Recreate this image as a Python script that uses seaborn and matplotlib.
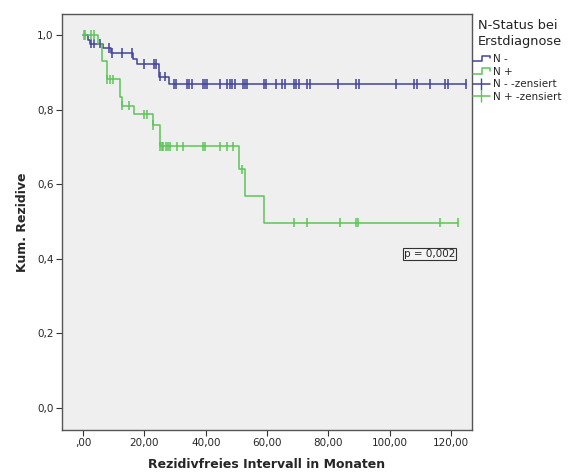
import numpy as np
import pandas as pd
import matplotlib
matplotlib.use('Agg')
import matplotlib.pyplot as plt
import seaborn as sns
from matplotlib.lines import Line2D
from matplotlib.legend_handler import HandlerBase

# Kaplan-Meier step curves (time in months, cumulative value)
n_minus_t = [0, 1.5, 2.2, 6.6, 9.0, 16.4, 17.6, 24.8, 27.9, 125.0]
n_minus_s = [1.0, 0.988, 0.977, 0.965, 0.952, 0.937, 0.922, 0.888, 0.869, 0.869]
n_plus_t = [0, 5.0, 6.1, 7.7, 11.9, 12.6, 16.7, 22.7, 25.0, 50.7, 52.9, 58.9, 122.2]
n_plus_s = [1.0, 0.977, 0.930, 0.881, 0.835, 0.811, 0.787, 0.759, 0.702, 0.640, 0.569, 0.497, 0.497]

# censored observations
n_minus_cens = [2.6, 3.7, 5.5, 8.5, 9.4, 12.7, 15.9, 19.7, 23.0, 23.8, 25.2, 26.6,
                29.5, 30.3, 33.9, 34.7, 35.5, 39.0, 39.8, 40.5, 44.8, 47.0, 47.8, 48.6,
                49.6, 52.1, 52.8, 53.6, 59.0, 59.7, 62.9, 64.9, 65.8, 68.9, 69.6, 70.3,
                73.1, 73.9, 83.2, 89.1, 89.9, 102.1, 108.1, 109.0, 113.1, 118.2, 119.1, 125.0]
n_plus_cens = [0.2, 0.6, 2.6, 3.5, 7.8, 8.6, 9.9, 12.7, 14.8, 19.9, 20.8, 22.8, 25.1,
               25.6, 26.2, 26.9, 27.6, 28.3, 30.6, 32.7, 39.1, 39.8, 44.8, 47.0, 48.9,
               51.8, 68.8, 72.9, 83.8, 89.0, 89.8, 116.3, 122.2]

groups = ['N -', 'N +']
colors = {'N -': '#42439a', 'N +': '#5cc45a'}
x_ticks = [0, 20, 40, 60, 80, 100, 120]
x_tick_labels = [',00', '20,00', '40,00', '60,00', '80,00', '100,00', '120,00']
y_ticks = [0.0, 0.2, 0.4, 0.6, 0.8, 1.0]
y_tick_labels = ['0,0', '0,2', '0,4', '0,6', '0,8', '1,0']
p_text = 'p = 0,002'


def level_at(times, levels, t):
    idx = np.searchsorted(times, t, side='right') - 1
    return np.asarray(levels)[idx]


steps = pd.concat([
    pd.DataFrame({'time': n_minus_t, 'surv': n_minus_s, 'group': 'N -'}),
    pd.DataFrame({'time': n_plus_t, 'surv': n_plus_s, 'group': 'N +'}),
])
cens = pd.concat([
    pd.DataFrame({'time': n_minus_cens, 'surv': level_at(n_minus_t, n_minus_s, n_minus_cens), 'group': 'N -'}),
    pd.DataFrame({'time': n_plus_cens, 'surv': level_at(n_plus_t, n_plus_s, n_plus_cens), 'group': 'N +'}),
])

sns.set_theme(style='white')
plt.rcParams['font.family'] = ['DejaVu Sans']

fig = plt.figure(figsize=(5.69, 4.73), dpi=100)
ax = fig.add_axes([0.109, 0.091, 0.7205, 0.879])
ax.set_facecolor('#efefef')

sns.lineplot(data=steps, x='time', y='surv', hue='group', palette=colors,
             drawstyle='steps-post', estimator=None, linewidth=1.1, legend=False, ax=ax)
sns.scatterplot(data=cens, x='time', y='surv', hue='group', palette=colors,
                marker='|', s=45, linewidth=1.1, legend=False, ax=ax, zorder=3)

ax.set_xlim(-6.9, 126.9)
ax.set_ylim(-0.059, 1.056)
ax.set_xticks(x_ticks)
ax.set_xticklabels(x_tick_labels)
ax.set_yticks(y_ticks)
ax.set_yticklabels(y_tick_labels)
ax.tick_params(axis='both', which='both', direction='out', length=4, width=0.8,
               color='#333333', labelsize=7.5, pad=2, left=True, bottom=True)
for sp in ax.spines.values():
    sp.set_color('#555555')
    sp.set_linewidth(1.0)

ax.set_xlabel('Rezidivfreies Intervall in Monaten', fontsize=9, fontweight='bold', labelpad=7)
ax.set_ylabel('Kum. Rezidive', fontsize=9, fontweight='bold', labelpad=6)

ax.text(104.6, 0.413, p_text, fontsize=7.5, ha='left', va='center',
        bbox=dict(boxstyle='square,pad=0.1', facecolor='#f4f4f4', edgecolor='#333333', linewidth=0.8))


class StepHandler(HandlerBase):
    def create_artists(self, legend, orig_handle, xdescent, ydescent, width, height, fontsize, trans):
        x0 = -xdescent
        y0 = -ydescent
        xs = [x0, x0 + width * 0.55, x0 + width * 0.55, x0 + width, x0 + width]
        ys = [y0 + height * 0.15, y0 + height * 0.15, y0 + height * 0.85, y0 + height * 0.85, y0 + height * 0.55]
        ln = Line2D(xs, ys, color=orig_handle.get_color(), linewidth=1.1, transform=trans)
        return [ln]


h_minus = Line2D([], [], color=colors['N -'])
h_plus = Line2D([], [], color=colors['N +'])
h_minus_c = Line2D([], [], color=colors['N -'], marker='|', markersize=8, linewidth=1.1)
h_plus_c = Line2D([], [], color=colors['N +'], marker='|', markersize=8, linewidth=1.1)

# legend title drawn separately so the gap to the entries matches
fig.text(478 / 569, 1 - 19 / 473, 'N-Status bei\nErstdiagnose', fontsize=9.3,
         ha='left', va='top', linespacing=1.25, color='#222222')

leg = fig.legend([h_minus, h_plus, h_minus_c, h_plus_c],
                 ['N -', 'N +', 'N - -zensiert', 'N + -zensiert'],
                 handler_map={h_minus: StepHandler(), h_plus: StepHandler()},
                 loc='upper left', bbox_to_anchor=(473 / 569, 1 - 54 / 473), frameon=False,
                 fontsize=7.5, handlelength=1.6, handletextpad=0.3, labelspacing=0.25,
                 borderaxespad=0, borderpad=0)

fig.savefig('out.png', dpi=100)
